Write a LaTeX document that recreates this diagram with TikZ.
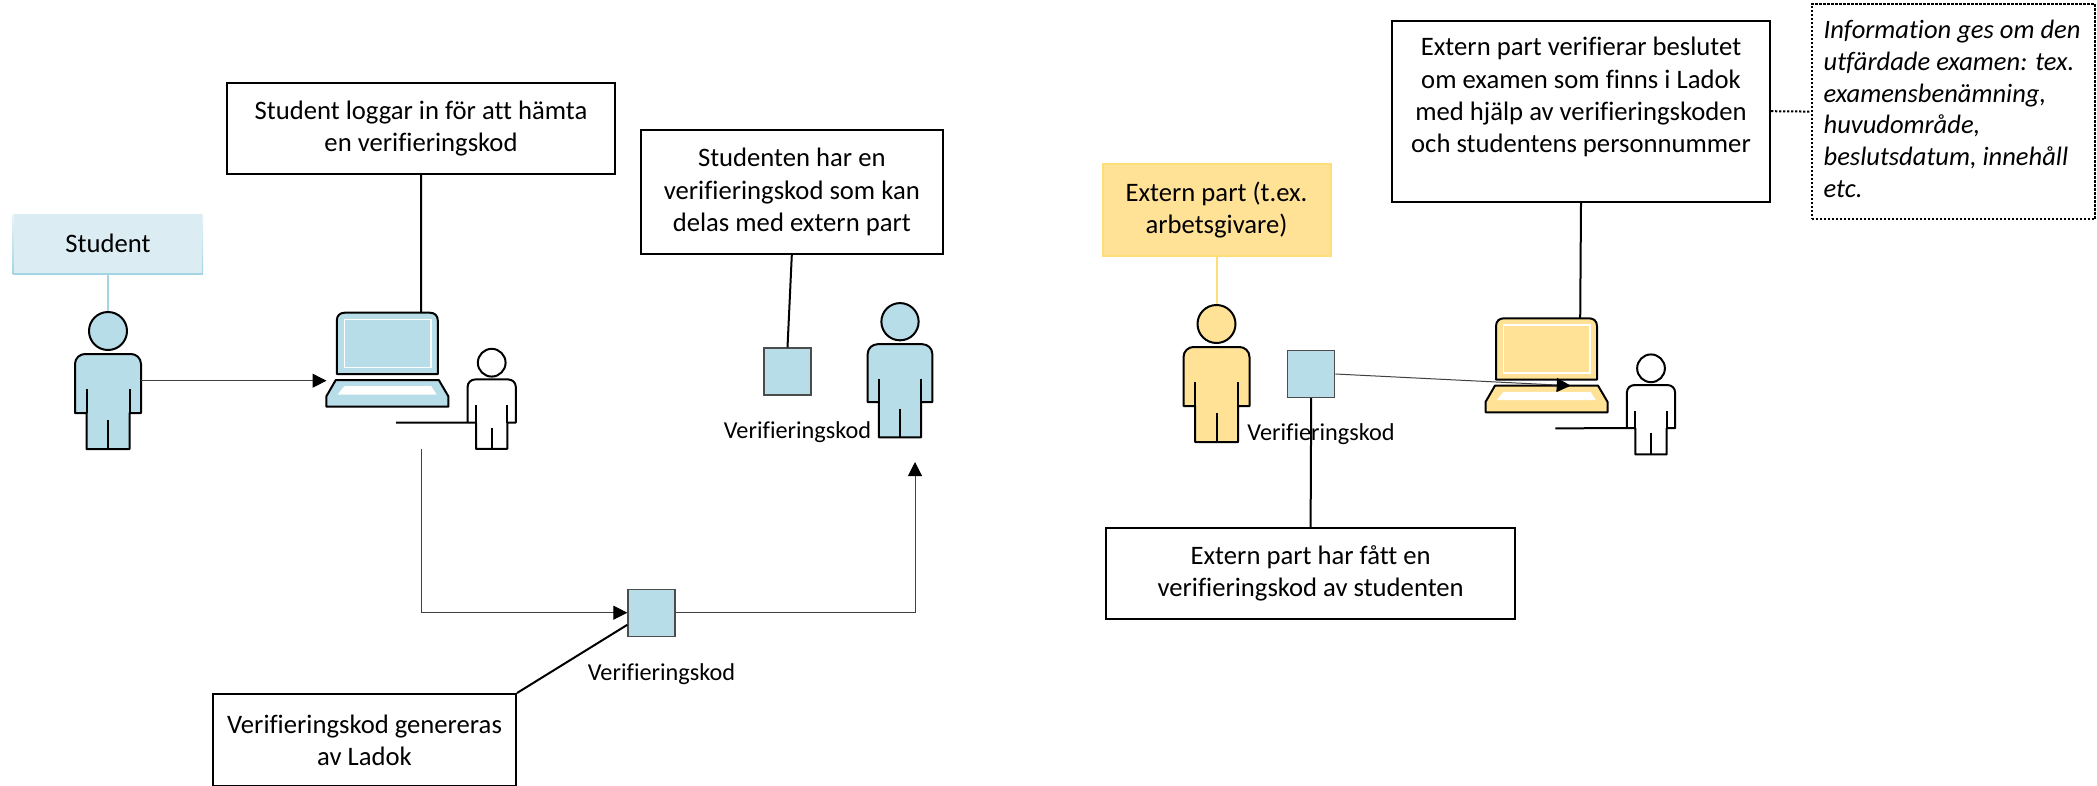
\documentclass[tikz,border=0pt]{standalone}
\usepackage{fontspec}
\setmainfont[Ligatures=NoCommon]{Carlito}
\usetikzlibrary{arrows.meta,calc}
\definecolor{figblue}{HTML}{B7DDE8}
\definecolor{figyellow}{HTML}{FFE296}
\definecolor{boxblue}{HTML}{DBEDF3}
\definecolor{edgeblue}{HTML}{A3D5E4}
\definecolor{edgeyellow}{HTML}{FFDD78}
\newcommand\upx{0.75pt}
\tikzset{
  textbox/.style={draw=black,line width=1.5pt,fill=white,align=center,inner sep=0pt,
    font=\fontsize{20}{24.2}\selectfont},
  codesquare/.style={draw=black!70,line width=1pt,fill=figblue,inner sep=0pt,
    minimum width=47*\upx,minimum height=47*\upx},
  codelabel/.style={anchor=base,inner sep=0pt,font=\fontsize{18.2}{22}\selectfont},
  flowline/.style={line width=0.75pt,draw=black!75,-{Triangle[length=10.5pt,width=10.5pt,black]}},
  callout/.style={line width=1.5pt,draw=black},
  figline/.style={line width=1.5pt,draw=black,line join=round},
}
% cx, cy (head centre), scale, fill, name
\newcommand\personfig[5]{%
  \begin{scope}[shift={(#1,#2)},scale=#3]
    \draw[figline,fill=#4] (-21.5,118) -- (-21.5,82) -- (-33,82) -- (-33,33)
      .. controls (-33,27) and (-28,23) .. (-23,23) -- (23,23)
      .. controls (28,23) and (33,27) .. (33,33) -- (33,82) -- (21.5,82) -- (21.5,118) -- cycle;
    \draw[figline] (-21.5,58) -- (-21.5,82) (21.5,58) -- (21.5,82) (0,89) -- (0,118);
    \node[figline,fill=#4,circle,inner sep=0pt,minimum size=38*#3*\upx] (#5head) at (0,0) {};
    \coordinate (#5arm) at (-33,82);
  \end{scope}}
% x, y (screen top left), fill, name
\newcommand\laptopfig[4]{%
  \begin{scope}[shift={(#1,#2)}]
    \draw[figline,fill=#3] (0,61.3) -- (0,8) .. controls (0,3) and (3,0) .. (8,0) -- (93,0)
      .. controls (98,0) and (101,3) .. (101,8) -- (101,61.3) -- cycle;
    \draw[line width=1.2pt,draw=white] (7.5,6.7) rectangle (94,54.6);
    \draw[figline,fill=#3] (-1,67.3) -- (102,67.3) -- (111.5,83.5) -- (111.5,94)
      -- (-10.4,94) -- (-10.4,83.5) -- cycle;
    \fill[white] (7.5,73.5) -- (94.5,73.5) -- (99.8,81.9) -- (0.7,81.9) -- cycle;
    \coordinate (#4top) at (84.2,0);
  \end{scope}}
\begin{document}
\begin{tikzpicture}[x=0.75pt,y=-0.75pt]
\useasboundingbox (0,0) rectangle (2097,785);

% left part
\shade[top color=boxblue!60,bottom color=edgeblue] (12.7,214) rectangle (14,274);
\shade[top color=boxblue!60,bottom color=edgeblue] (201.7,214) rectangle (203,274);
\node[fill=boxblue,draw=none,inner sep=0pt,minimum width=188*\upx,minimum height=60*\upx,
  font=\fontsize{20}{24.2}\selectfont] (studentbox) at (108,243.5) {Student};
\draw[line width=1.5pt,edgeblue] (studentbox.south west) -- (studentbox.south east);

\personfig{108}{331}{1}{figblue}{student}
\draw[line width=1.5pt,edgeblue] (studentbox.south) -- (studenthead.north);

\laptopfig{336.8}{312.7}{figblue}{laptopA}
\personfig{491.7}{362.7}{0.73}{white}{userA}
\coordinate (tableA) at (396,422.7);
\draw[figline] (tableA) -- (userAarm);

\node[textbox,minimum width=388*\upx,minimum height=91*\upx] (loginbox) at (421,128.5)
  {Student loggar in för att hämta\\en verifieringskod};
\draw[callout] (loginbox.south) -- (laptopAtop);

\coordinate (studentout) at (140.5,380.7);
\coordinate (laptopAin) at (326.5,380.7);
\draw[flowline] (studentout) -- (laptopAin);

\node[codesquare] (codeA) at (651.5,612.7) {};
\node[codelabel] (codeAlabel) at (661.5,680) {Verifieringskod};
\coordinate (laptopAout) at (421,448.7);
\draw[flowline] (laptopAout) |- (codeA.west);

\node[textbox,minimum width=303*\upx,minimum height=92*\upx] (genbox) at (364.5,740)
  {Verifieringskod genereras\\av Ladok};
\draw[callout] (genbox.north east) -- ($(codeA.west)!0.5!(codeA.south west)$);

\personfig{900}{321.7}{0.98}{figblue}{holder}
\coordinate (holderin) at (915,462);
\draw[flowline] (codeA.east) -| (holderin);

\node[codesquare] (codeB) at (787.5,371.5) {};
\node[codelabel] (codeBlabel) at (797.5,438) {Verifieringskod};
\node[textbox,minimum width=302*\upx,minimum height=124*\upx] (hasbox) at (791.8,192)
  {Studenten har en\\verifieringskod som kan\\delas med extern part};
\draw[callout] (hasbox.south) -- (codeB.north);

% right part
\node[fill=figyellow,draw=edgeyellow,line width=1.5pt,align=center,inner sep=0pt,
  minimum width=228*\upx,minimum height=92*\upx,
  font=\fontsize{20}{24.2}\selectfont] (externbox) at (1216.5,210)
  {Extern part (t.ex.\\arbetsgivare)};
\personfig{1216.5}{324}{1}{figyellow}{extern}
\draw[line width=1.5pt,edgeyellow] (externbox.south) -- (externhead.north);

\laptopfig{1496}{318.3}{figyellow}{laptopB}
\personfig{1651}{368.3}{0.73}{white}{userB}
\coordinate (tableB) at (1555.3,428.3);
\draw[figline] (tableB) -- (userBarm);

\node[textbox,minimum width=378*\upx,minimum height=181*\upx] (verifybox) at (1581,111.2)
  {Extern part verifierar beslutet\\om examen som finns i Ladok\\med hjälp av verifieringskoden\\och studentens personnummer\\ \mbox{}};
\draw[callout] (verifybox.south) -- (laptopBtop);

\node[codesquare] (codeC) at (1311.2,374) {};
\node[textbox,minimum width=409*\upx,minimum height=91*\upx] (gotbox) at (1310.6,573.5)
  {Extern part har fått en\\verifieringskod av studenten};
\draw[callout] (codeC.south) -- (gotbox.north);
\node[codelabel] (codeClabel) at (1321,440.7) {Verifieringskod};
\coordinate (laptopBin) at (1570.7,385.7);
\draw[flowline] (codeC.east) -- (laptopBin);

\node[draw=black,line width=1.5pt,dash pattern=on 1.8pt off 1.2pt,align=left,inner xsep=0pt,inner ysep=0pt,
  minimum width=283.5*\upx,minimum height=215*\upx,
  font=\fontsize{19.9}{23.8}\selectfont\itshape] (infobox) at (1953.4,111.6)
  {\begin{tabular}{@{}l@{}}Information ges om den\\utfärdade examen: tex.\\examensbenämning,\\huvudområde,\\beslutsdatum, innehåll\\etc.\end{tabular}\hspace{2pt}};
\draw[line width=1.5pt,dash pattern=on 1.8pt off 1.2pt] (verifybox.east) -- (infobox.west);
\end{tikzpicture}
\end{document}
